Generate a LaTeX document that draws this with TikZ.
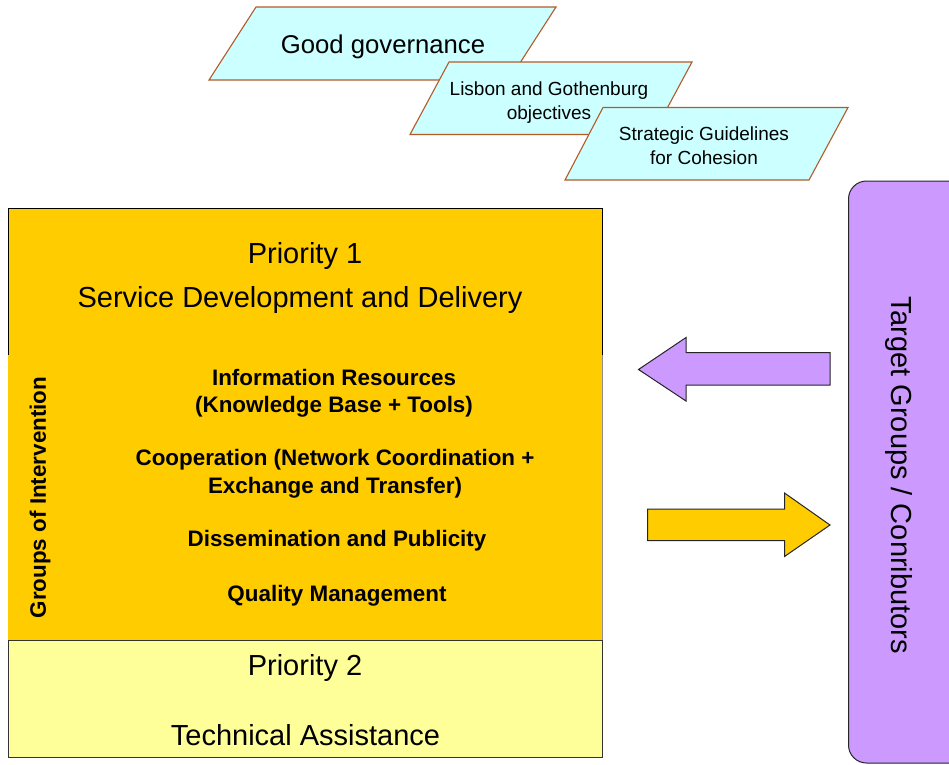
\documentclass[tikz,border=0pt]{standalone}
\usepackage{fontspec}
\setmainfont{Liberation Sans}
\definecolor{cyanfill}{RGB}{204,255,255}
\definecolor{paraedge}{RGB}{180,90,40}
\definecolor{orangefill}{RGB}{255,204,0}
\definecolor{yellowfill}{RGB}{255,255,153}
\definecolor{purplefill}{RGB}{204,153,255}
\tikzset{
  para/.style={fill=cyanfill, draw=paraedge, line width=1.1pt},
  big/.style={font=\fontsize{29}{34}\selectfont, anchor=base, inner sep=0pt},
  mid/.style={font=\fontsize{25.7}{30}\selectfont, anchor=base, inner sep=0pt},
  small/.style={font=\fontsize{19}{24}\selectfont, anchor=base, inner sep=0pt},
  boldtxt/.style={font=\fontsize{22.4}{27}\bfseries\selectfont, anchor=base, inner sep=0pt},
  blockarrow/.style={draw=black!85, line width=1pt}
}
\begin{document}
\begin{tikzpicture}[x=1pt,y=-1pt]
\useasboundingbox (0,0) rectangle (949,764);
\fill[white] (0,0) rectangle (949,764);
\clip (0,0) rectangle (949,764);

% parallelograms
\draw[para] (256,7) -- (556,7) -- (509,80) -- (209,80) -- cycle;
\draw[para] (449,62) -- (692,62) -- (653,134.5) -- (410,134.5) -- cycle;
\draw[para] (603,107.5) -- (848,107.5) -- (809,180) -- (565,180) -- cycle;
\node[mid] (gg) at (383,53) {Good governance};
\node[small] (lg1) at (549,95) {Lisbon and Gothenburg};
\node[small] (lg2) at (549,119) {objectives};
\node[small] (sg1) at (704,140) {Strategic Guidelines};
\node[small] (sg2) at (704,164) {for Cohesion};

% priority 1
\fill[orangefill] (8,208) rectangle (602,640);
\draw[black, line width=1pt] (8,355) -- (8,208) -- (602,208) -- (602,355);
\draw[black!45, line width=1pt] (602,355) -- (602,640);
\node[big] (p1a) at (305,263) {Priority 1};
\node[big] (p1b) at (300,307) {Service Development and Delivery};
\node[boldtxt] (i1) at (334,385) {Information Resources};
\node[boldtxt] (i2) at (334,412) {(Knowledge Base + Tools)};
\node[boldtxt] (c1) at (335,465) {Cooperation (Network Coordination +};
\node[boldtxt] (c2) at (335,493) {Exchange and Transfer)};
\node[boldtxt] (d1) at (337,546) {Dissemination and Publicity};
\node[boldtxt] (q1) at (337,601) {Quality Management};
\node[font=\fontsize{22.4}{27}\bfseries\selectfont, rotate=90, inner sep=0pt] (goi) at (40,497.5) {Groups of Intervention};

% priority 2
\draw[fill=yellowfill, draw=black!80, line width=1pt] (8,640) rectangle (602,757);
\node[big] (p2a) at (305,675) {Priority 2};
\node[big] (p2b) at (305.5,745) {Technical Assistance};

% target groups
\draw[fill=purplefill, draw=black!85, line width=1pt, rounded corners=18pt] (848.5,181) rectangle (990,763);
\node[font=\fontsize{29}{34}\selectfont, rotate=-90, inner sep=0pt] (tg) at (899,475) {Target Groups / Conributors};

% block arrows
\draw[blockarrow, fill=purplefill] (638.5,369.5) -- (686,337.5) -- (686,352.5) -- (830,352.5) -- (830,385) -- (686,385) -- (686,401) -- cycle;
\draw[blockarrow, fill=orangefill] (830,525) -- (784.5,493) -- (784.5,509) -- (647.5,509) -- (647.5,540.5) -- (784.5,540.5) -- (784.5,556.5) -- cycle;
\end{tikzpicture}
\end{document}
